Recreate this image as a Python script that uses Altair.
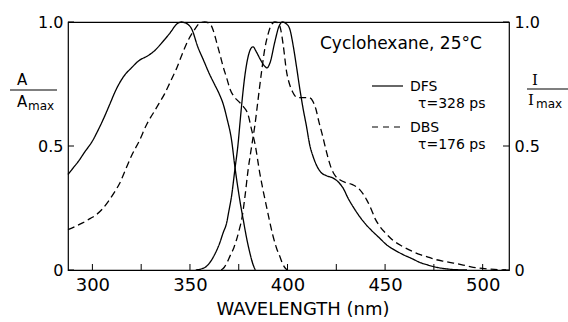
import altair as alt
import pandas as pd

FONT = "DejaVu Sans"

# ---- data ----
dfs_abs_wl = [287.5, 290, 293, 296, 300, 303, 306, 309, 312, 316, 320, 324, 328, 332, 336, 340,
              343, 345.5, 348, 351, 354, 357, 360, 362.5, 365, 367, 369, 371.3, 373, 374.7,
              376, 377.3, 379, 380.7, 382, 383.5]
dfs_abs_val = [0.385, 0.41, 0.44, 0.475, 0.52, 0.565, 0.615, 0.67, 0.725, 0.78, 0.815, 0.845, 0.862,
               0.885, 0.92, 0.958, 0.99, 1.0, 0.995, 0.97, 0.9, 0.845, 0.79, 0.75, 0.71, 0.67, 0.61,
               0.525, 0.418, 0.324, 0.26, 0.203, 0.13, 0.069, 0.03, 0.0]

dbs_abs_wl = [287.5, 291, 295, 299, 302, 305, 308, 311, 314, 317, 320, 324, 328, 331, 334, 337, 340,
              343, 346, 349, 352, 355, 357.5, 360, 362, 363.6, 365.5, 367, 368.8, 370.5, 372.5,
              374.5, 377.3, 379.8, 381.6, 383.3, 385.8, 387.5, 389.2, 391, 392.6, 394.3, 396,
              397.5, 399, 400]
dbs_abs_val = [0.163, 0.175, 0.19, 0.208, 0.223, 0.245, 0.275, 0.31, 0.35, 0.405, 0.46, 0.52, 0.59,
               0.63, 0.67, 0.71, 0.76, 0.81, 0.87, 0.925, 0.965, 0.995, 1.0, 0.995, 0.965, 0.92,
               0.865, 0.82, 0.775, 0.73, 0.7, 0.683, 0.66, 0.626, 0.565, 0.51, 0.39, 0.32, 0.257,
               0.19, 0.136, 0.09, 0.056, 0.025, 0.006, 0.0]

dfs_fl_wl = [353, 356, 358, 360.2, 362.5, 365.3, 367, 368.8, 370, 371.3, 373, 374.7, 375.6, 376.5,
             378.2, 379.8, 381, 382.3, 384, 386, 388.5, 389.5, 391, 393.5, 395.5, 397.5, 399, 401,
             403, 404.6, 406.3, 408, 409.7, 411.5, 413, 415, 417, 420, 423, 426, 428.5, 431, 434,
             437, 440, 443, 447, 451, 455, 459, 464, 468, 472, 477, 482, 487, 492]
dfs_fl_val = [0.0, 0.005, 0.012, 0.03, 0.06, 0.11, 0.15, 0.19, 0.24, 0.297, 0.404, 0.512, 0.59,
              0.666, 0.787, 0.86, 0.89, 0.9, 0.88, 0.85, 0.82, 0.815, 0.835, 0.92, 0.98, 1.0,
              0.995, 0.975, 0.9, 0.82, 0.73, 0.65, 0.58, 0.5, 0.46, 0.42, 0.395, 0.38, 0.372,
              0.355, 0.33, 0.29, 0.25, 0.215, 0.185, 0.16, 0.13, 0.1, 0.08, 0.063, 0.045, 0.03,
              0.02, 0.01, 0.004, 0.001, 0.0]

dbs_fl_wl = [366, 367.5, 369, 370.5, 372.5, 373.9, 375.5, 376.5, 378.2, 379.8, 381.6, 383.3, 385,
             386.7, 388.4, 390, 391.5, 393.5, 395.5, 396.5, 397.8, 399.5, 401, 402.5, 405, 408,
             411, 413, 414.5, 416, 418, 420, 422, 424, 426.8, 430, 433, 437, 440.5, 443, 445,
             447.3, 450.7, 454, 459, 464, 468, 472, 476, 481, 485, 490, 494, 498, 503, 508, 512]
dbs_fl_val = [0.0, 0.01, 0.03, 0.056, 0.09, 0.123, 0.17, 0.203, 0.297, 0.404, 0.498, 0.585, 0.693,
              0.8, 0.894, 0.95, 0.985, 1.0, 0.995, 0.97, 0.907, 0.8, 0.75, 0.72, 0.695, 0.695,
              0.695, 0.68, 0.65, 0.6, 0.54, 0.475, 0.42, 0.385, 0.364, 0.352, 0.345, 0.324, 0.284,
              0.243, 0.205, 0.176, 0.145, 0.12, 0.095, 0.075, 0.062, 0.052, 0.042, 0.034, 0.028,
              0.02, 0.013, 0.008, 0.004, 0.001, 0.0]

x_domain = [287.5, 513.5]
x_tick_values = [300, 325, 350, 375, 400, 425, 450, 475, 500]
x_label_values = [300, 350, 400, 450, 500]
y_tick_values = [0, 0.5, 1.0]

compounds = ["DFS", "DBS"]
lifetimes = ["τ=328 ps", "τ=176 ps"]
solvent_label = "Cyclohexane, 25°C"
x_title = "WAVELENGTH (nm)"

W, H = 441, 248


def frame(wl, val, compound):
    return pd.DataFrame({"wl": wl, "val": val, "compound": compound})


abs_df = pd.concat([frame(dfs_abs_wl, dfs_abs_val, "DFS"), frame(dbs_abs_wl, dbs_abs_val, "DBS")])
fl_df = pd.concat([frame(dfs_fl_wl, dfs_fl_val, "DFS"), frame(dbs_fl_wl, dbs_fl_val, "DBS")])

x_scale = alt.Scale(domain=x_domain, nice=False, zero=False)
y_scale = alt.Scale(domain=[0, 1], nice=False, zero=False)
dash_scale = alt.Scale(domain=compounds, range=[[1, 0], [7, 4]])

label_expr = "datum.value == 0 ? '0' : format(datum.value, '.1f')"

x_axis = alt.Axis(values=x_label_values, ticks=False, domain=False, grid=False, title=None,
                  labelFontSize=18, labelPadding=6, labelFlush=False, labelFont=FONT,
                  labelColor="black", format="d")
y_left_axis = alt.Axis(orient="left", values=y_tick_values, ticks=False, domain=False, grid=False,
                       title=None, labelFontSize=16, labelPadding=5, labelFont=FONT,
                       labelColor="black", labelExpr=label_expr)
y_right_axis = alt.Axis(orient="right", values=y_tick_values, ticks=False, domain=False, grid=False,
                        title=None, labelFontSize=16, labelPadding=5, labelFont=FONT,
                        labelColor="black", labelExpr=label_expr)

abs_lines = alt.Chart(abs_df).mark_line(color="black", strokeWidth=1.3, interpolate="monotone").encode(
    x=alt.X("wl:Q", scale=x_scale, axis=x_axis),
    y=alt.Y("val:Q", scale=y_scale, axis=y_left_axis),
    strokeDash=alt.StrokeDash("compound:N", scale=dash_scale, legend=None),
    detail="compound:N",
)
fl_lines = alt.Chart(fl_df).mark_line(color="black", strokeWidth=1.3, interpolate="monotone").encode(
    x=alt.X("wl:Q", scale=x_scale, axis=x_axis),
    y=alt.Y("val:Q", scale=y_scale, axis=y_right_axis),
    strokeDash=alt.StrokeDash("compound:N", scale=dash_scale, legend=None),
    detail="compound:N",
)

left_ticks = alt.Chart(pd.DataFrame({"val": y_tick_values})).mark_rule(color="black", strokeWidth=1).encode(
    y=alt.Y("val:Q", scale=y_scale, axis=y_left_axis), x=alt.value(0), x2=alt.value(6))
right_ticks = alt.Chart(pd.DataFrame({"val": y_tick_values})).mark_rule(color="black", strokeWidth=1).encode(
    y=alt.Y("val:Q", scale=y_scale, axis=y_right_axis), x=alt.value(W - 6), x2=alt.value(W))
x_ticks = alt.Chart(pd.DataFrame({"wl": x_tick_values})).mark_rule(color="black", strokeWidth=1).encode(
    x=alt.X("wl:Q", scale=x_scale, axis=x_axis), y=alt.value(H), y2=alt.value(H - 6))

left_group = alt.layer(abs_lines, left_ticks, x_ticks)
right_group = alt.layer(fl_lines, right_ticks)

one = pd.DataFrame({"a": [0]})


def text(t, x, y, size=14, align="left", font=FONT):
    return alt.Chart(one).mark_text(text=t, align=align, baseline="middle", fontSize=size,
                                    font=font, color="black").encode(x=alt.value(x), y=alt.value(y))


def hline(x1, x2, y, dash=None):
    kw = {"color": "black", "strokeWidth": 1.2}
    if dash:
        kw["strokeDash"] = dash
    return alt.Chart(one).mark_rule(**kw).encode(x=alt.value(x1), x2=alt.value(x2), y=alt.value(y))


annotations = [
    text(solvent_label, 252, 22, size=17),
    hline(304, 335, 64),
    text(compounds[0], 342, 65, size=14),
    text(lifetimes[0], 350, 82, size=14),
    hline(304, 335, 105, dash=[6, 5]),
    text(compounds[1], 342, 106, size=14),
    text(lifetimes[1], 350, 123, size=14),
    text(x_title, 235, 288, size=18, align="center"),
    # left axis title A / A_max
    text("A", -51, 58, size=15),
    hline(-58, -11, 68),
    text("A", -51, 80, size=15),
    text("max", -40, 84, size=12),
    # right axis title I / I_max
    text("I", 464, 58, size=15, font="DejaVu Serif"),
    hline(459, 500, 67),
    text("I", 460, 78, size=15, font="DejaVu Serif"),
    text("max", 468, 82, size=12),
]

chart = alt.layer(left_group, right_group, *annotations).resolve_scale(
    y="independent"
).properties(
    width=W, height=H,
    padding={"left": 68, "top": 22, "right": 59, "bottom": 52},
    autosize=alt.AutoSizeParams(type="none"),
    background="white",
).configure_view(stroke="black", strokeWidth=1.2)

chart.save("out.html", embed_options={"renderer": "svg", "actions": False})
